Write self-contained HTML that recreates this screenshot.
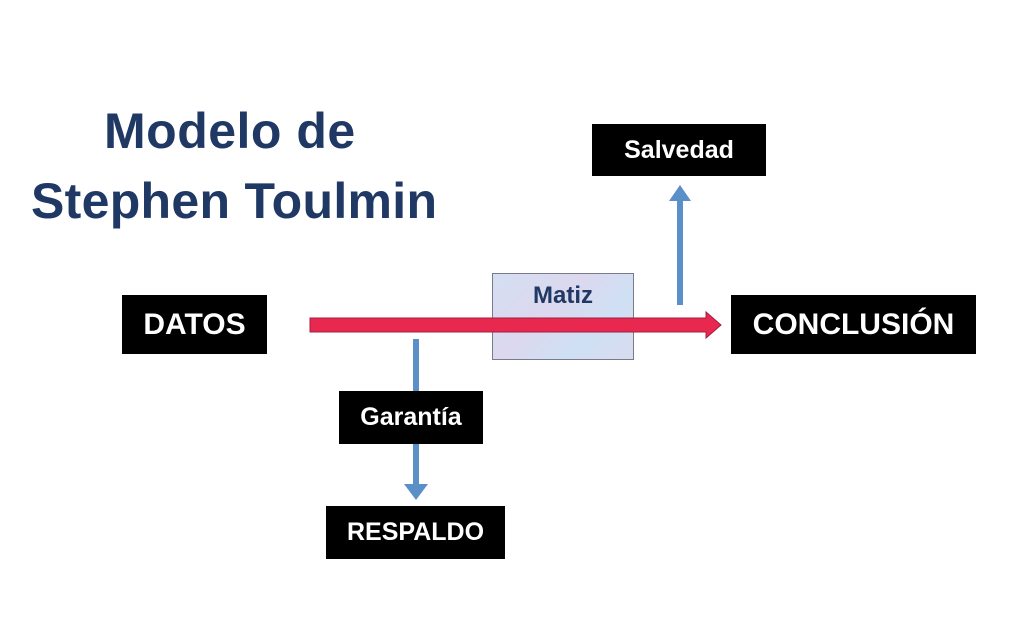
<!DOCTYPE html>
<html><head><style>
body{margin:0;width:1023px;height:635px;background:#fff;position:relative;overflow:hidden;font-family:"Liberation Sans",sans-serif}
.b{position:absolute;background:#000;color:#fff;font-weight:bold;display:flex;align-items:center;justify-content:center}
.t{position:absolute;color:#1f3864;font-weight:bold;font-size:50px;line-height:70px;white-space:nowrap}
</style></head><body>
<div class="t" style="left:104px;top:96px;letter-spacing:0.5px">Modelo de</div>
<div class="t" style="left:31px;top:166px;letter-spacing:0.3px">Stephen Toulmin</div>
<div style="position:absolute;left:492px;top:273px;width:142px;height:87px;background:linear-gradient(135deg,#d4dff3,#dcd8ee 40%,#cfe0f4 70%,#d8dcf0);border:1px solid #7a7a8a;box-sizing:border-box;"></div>
<div style="position:absolute;left:492px;top:282px;width:142px;text-align:center;color:#1f3864;font-weight:bold;font-size:24px">Matiz</div>
<svg width="1023" height="635" style="position:absolute;left:0;top:0">
<polygon points="310,318 706,318 706,312 721,325 706,338 706,332 310,332" fill="#e8284f" stroke="#a02040" stroke-width="1"/>
<rect x="413" y="339" width="6" height="146" fill="#5b8fc8"/>
<polygon points="404,484 428,484 416,500" fill="#5b8fc8"/>
<rect x="677" y="200" width="6" height="105" fill="#5b8fc8"/>
<polygon points="669,201 691,201 680,185" fill="#5b8fc8"/>
</svg>
<div class="b" style="left:122px;top:295px;width:145px;height:59px;font-size:30px">DATOS</div>
<div class="b" style="left:731px;top:295px;width:245px;height:59px;font-size:30px">CONCLUSIÓN</div>
<div class="b" style="left:592px;top:124px;width:174px;height:52px;font-size:25px">Salvedad</div>
<div class="b" style="left:339px;top:391px;width:144px;height:53px;font-size:25px">Garantía</div>
<div class="b" style="left:326px;top:506px;width:179px;height:53px;font-size:25px">RESPALDO</div>
</body></html>
